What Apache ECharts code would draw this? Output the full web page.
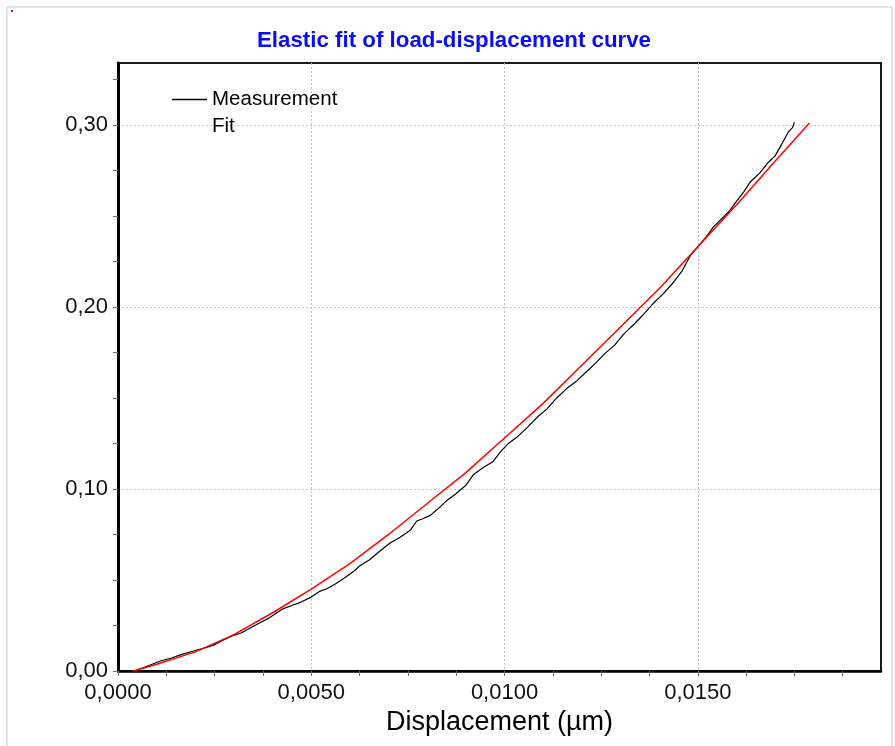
<!DOCTYPE html>
<html>
<head>
<meta charset="utf-8">
<script src="https://cdn.jsdelivr.net/npm/echarts@6/dist/echarts.min.js"></script>
<style>
html,body{margin:0;padding:0;background:#fff;}
#chart{width:895px;height:746px;}
</style>
</head>
<body>
<div id="chart"></div>
<script>
// Measurement curve (displacement µm, load)
var measX = [0.00040,0.00060,0.00085,0.00110,0.00140,0.00165,0.00196,0.00220,0.00247,0.00270,
  0.00299,0.00320,0.00342,0.00365,0.00390,0.00410,0.00428,0.00450,0.00475,0.00500,
  0.00523,0.00540,0.00557,0.00575,0.00592,0.00610,0.00627,0.00650,0.00670,0.00690,
  0.00704,0.00730,0.00756,0.00773,0.00790,0.00808,0.00830,0.00851,0.00875,0.00900,
  0.00920,0.00945,0.00970,0.00990,0.01010,0.01035,0.01060,0.01085,0.01110,0.01135,
  0.01160,0.01185,0.01210,0.01235,0.01260,0.01285,0.01310,0.01335,0.01360,0.01385,
  0.01410,0.01435,0.01460,0.01480,0.01500,0.01520,0.01540,0.01555,0.01579,0.01600,
  0.01620,0.01635,0.01660,0.01683,0.01700,0.01713,0.01725,0.01734,0.01745,0.01750];
var measY = [0.0000,0.0014,0.0034,0.0055,0.0073,0.0091,0.0110,0.0124,0.0142,0.0168,
  0.0196,0.0210,0.0236,0.0262,0.0290,0.0318,0.0343,0.0360,0.0380,0.0406,
  0.0439,0.0452,0.0471,0.0496,0.0520,0.0548,0.0580,0.0610,0.0645,0.0680,
  0.0703,0.0735,0.0773,0.0824,0.0838,0.0855,0.0895,0.0937,0.0975,0.1020,
  0.1080,0.1118,0.1150,0.1205,0.1250,0.1290,0.1340,0.1395,0.1440,0.1500,
  0.1550,0.1590,0.1640,0.1690,0.1745,0.1790,0.1855,0.1905,0.1960,0.2020,
  0.2070,0.2130,0.2200,0.2280,0.2330,0.2380,0.2438,0.2470,0.2520,0.2580,
  0.2635,0.2685,0.2735,0.2795,0.2830,0.2878,0.2925,0.2960,0.2985,0.3015];

// Elastic fit curve
var fitX = [0.0004,0.0010,0.0020,0.0030,0.0040,0.0050,0.0060,0.0070,0.0080,0.0090,
  0.0100,0.0110,0.0120,0.0130,0.0140,0.0150,0.0160,0.0170,0.01789];
var fitY = [0.000,0.0037,0.0105,0.020,0.032,0.045,0.059,0.075,0.092,0.109,
  0.128,0.147,0.168,0.189,0.210,0.233,0.256,0.280,0.301];

// Axis ticks / labels
var xLabelValues = [0, 0.005, 0.010, 0.015];
var xTickValues = [0,0.00125,0.0025,0.00375,0.005,0.00625,0.0075,0.00875,0.010,0.01125,
  0.0125,0.01375,0.015,0.01625,0.0175,0.01875];
var yLabelValues = [0, 0.10, 0.20, 0.30];
var yTickValues = [0,0.025,0.05,0.075,0.10,0.125,0.15,0.175,0.20,0.225,0.25,0.275,0.30,0.325];
var xMax = 0.01974, yMax = 0.334;

var titleText = 'Elastic fit of load-displacement curve';
var xAxisName = 'Displacement (µm)';
var seriesNames = ['Measurement', 'Fit'];

function zip(a, b) { return a.map(function (v, i) { return [v, b[i]]; }); }

var FONT = "'Liberation Sans', Arial, sans-serif";
var chart = echarts.init(document.getElementById('chart'), null, {renderer: 'canvas'});
chart.setOption({
  animation: false,
  backgroundColor: '#fff',
  title: {
    text: titleText, left: 257, top: 30, padding: 0,
    textStyle: {color: '#0a0aff', fontSize: 22.3, fontWeight: 'bold', fontFamily: FONT}
  },
  legend: {
    orient: 'vertical', left: 172, top: 89, padding: 0,
    itemWidth: 35, itemHeight: 1.3, itemGap: 6,
    textStyle: {fontSize: 20.5, color: '#000', fontFamily: FONT, lineHeight: 20},
    data: [
      {name: seriesNames[0], icon: 'rect', itemStyle: {color: '#000'}},
      {name: seriesNames[1], icon: 'none'}
    ]
  },
  graphic: [
    {type: 'rect', shape: {x: 7, y: 7, width: 885, height: 760}, style: {fill: 'none', stroke: '#c8c8c8', lineWidth: 1}, silent: true, z: -1},
    {type: 'rect', shape: {x: 11, y: 10, width: 2, height: 2}, style: {fill: '#ff0000'}, silent: true}
  ],
  grid: {
    left: 118, right: 14, top: 63, bottom: 75,
    show: true, borderColor: '#1a1a1a', borderWidth: 2, backgroundColor: '#fff'
  },
  xAxis: [{
    type: 'value', min: 0, max: xMax, interval: 0.005, position: 'bottom',
    name: xAxisName, nameLocation: 'middle', nameGap: 37,
    nameTextStyle: {fontSize: 27, color: '#000', fontFamily: FONT},
    axisLine: {show: true, onZero: false, lineStyle: {color: '#000', width: 2.5}},
    axisTick: {show: false},
    axisLabel: {
      customValues: xLabelValues, margin: 11, fontSize: 22, color: '#111', fontFamily: FONT,
      formatter: function (v) { return v.toFixed(4).replace('.', ','); }
    },
    splitLine: {show: true, showMinLine: false, showMaxLine: false, lineStyle: {color: '#c4c4c4', type: [2, 2], width: 1}}
  }, {
    type: 'value', min: 0, max: xMax, interval: 0.00125, position: 'bottom',
    axisLine: {show: false, onZero: false},
    axisTick: {show: true, inside: false, length: 5, customValues: xTickValues, lineStyle: {color: '#707070', width: 1}},
    axisLabel: {show: false},
    splitLine: {show: false}
  }],
  yAxis: [{
    type: 'value', min: 0, max: yMax, interval: 0.1, position: 'left',
    axisLine: {show: true, onZero: false, lineStyle: {color: '#000', width: 3}},
    axisTick: {show: false},
    axisLabel: {
      customValues: yLabelValues, margin: 10, fontSize: 22, color: '#111', fontFamily: FONT,
      formatter: function (v) { return v.toFixed(2).replace('.', ','); }
    },
    splitLine: {show: true, showMinLine: false, showMaxLine: false, lineStyle: {color: '#c4c4c4', type: [2, 2], width: 1}}
  }, {
    type: 'value', min: 0, max: yMax, interval: 0.025, position: 'left',
    axisLine: {show: false, onZero: false},
    axisTick: {show: true, inside: false, length: 5, customValues: yTickValues, lineStyle: {color: '#707070', width: 1}},
    axisLabel: {show: false},
    splitLine: {show: false}
  }],
  series: [
    {
      name: seriesNames[0], type: 'line', data: zip(measX, measY),
      xAxisIndex: 0, yAxisIndex: 0,
      showSymbol: false, symbol: 'none', smooth: false,
      lineStyle: {color: '#000', width: 1.2}, itemStyle: {color: '#000'}, z: 3
    },
    {
      name: seriesNames[1], type: 'line', data: zip(fitX, fitY),
      xAxisIndex: 0, yAxisIndex: 0,
      showSymbol: false, symbol: 'none', smooth: false,
      lineStyle: {color: '#ff0000', width: 1.5}, itemStyle: {color: '#ff0000'}, z: 4
    }
  ]
});
</script>
</body>
</html>
